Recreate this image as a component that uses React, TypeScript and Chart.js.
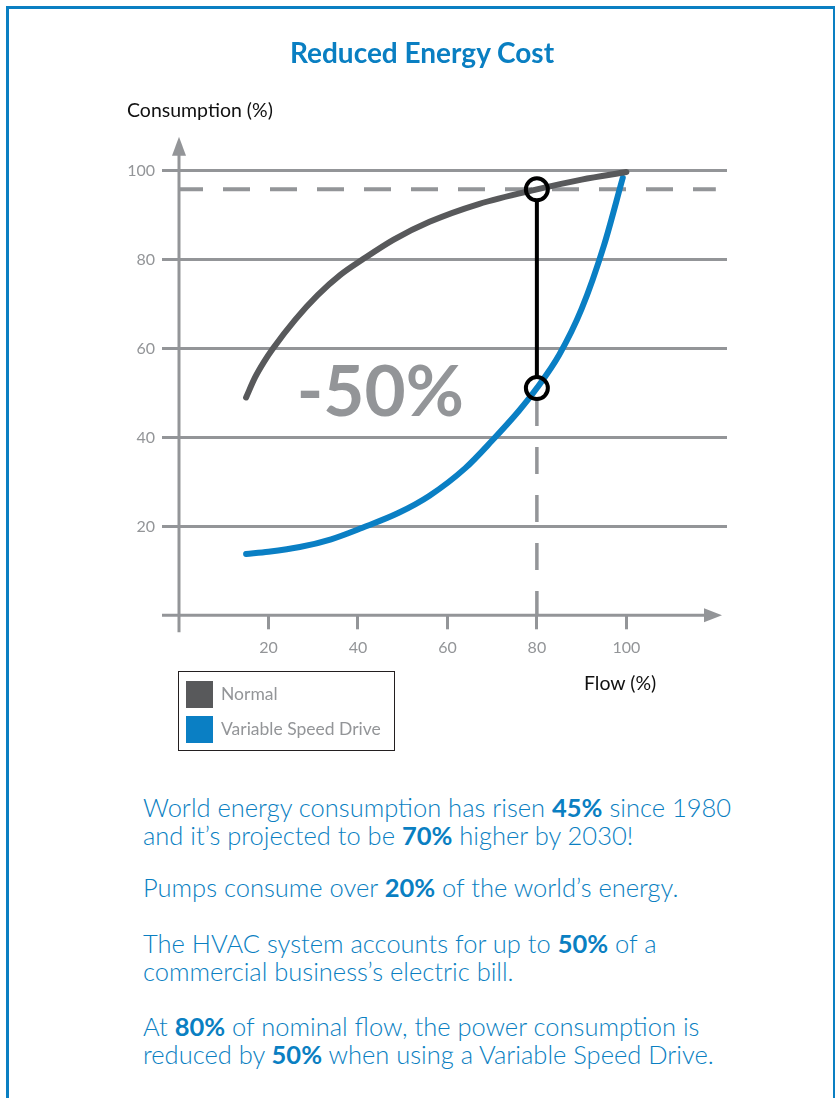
import React, { useEffect, useRef } from 'react';
import { Chart, registerables } from 'chart.js';

Chart.register(...registerables);

// ---- data ----
const flowNormal = [15, 17, 19, 21, 26, 31, 36, 41, 48, 56, 67, 80, 90, 100];
const consNormal = [49, 53.5, 57, 60, 66.5, 72, 76.5, 80, 84.5, 88.5, 92.5, 95.8, 98, 99.7];
const flowVSD = [15, 20, 27, 34, 41, 49, 56, 64, 70, 76, 80, 85, 90, 95, 99.2];
const consVSD = [13.8, 14.3, 15.35, 17.1, 19.7, 23, 26.9, 33.1, 39.3, 46, 51.1, 58.6, 68.9, 83.2, 98.4];
const xTicks = [20, 40, 60, 80, 100];
const yTicks = [20, 40, 60, 80, 100];
const operatingFlow = 80;
const normalAtOp = 95.8;
const vsdAtOp = 51.1;
const savingLabel = '-50%';
const savingAt = { x: 45, y: 50 };
const seriesNames = ['Normal', 'Variable Speed Drive'];
const seriesColors = ['#58595b', '#0a7fc4'];
const refLineEnd = 120;

const gray = '#939598';
const blue = '#0a7fc2';
const FONT = 'Lato, "Open Sans", sans-serif';

const overlayPlugin = {
  id: 'overlay',
  beforeDatasetsDraw(chart: any) {
    const { ctx, chartArea } = chart;
    const xs = chart.scales.x;
    const ys = chart.scales.y;
    const x0 = xs.getPixelForValue(0);
    const y0 = ys.getPixelForValue(0);
    ctx.save();
    ctx.strokeStyle = gray;
    ctx.fillStyle = gray;
    ctx.lineWidth = 3;
    // y axis with arrow
    const yTip = ys.getPixelForValue(100) - 34;
    ctx.beginPath();
    ctx.moveTo(x0, y0 + 17);
    ctx.lineTo(x0, yTip + 10);
    ctx.stroke();
    ctx.beginPath();
    ctx.moveTo(x0, yTip);
    ctx.lineTo(x0 - 7, yTip + 19);
    ctx.lineTo(x0 + 7, yTip + 19);
    ctx.closePath();
    ctx.fill();
    // x axis with arrow
    const xTip = chartArea.right - 5;
    ctx.beginPath();
    ctx.moveTo(x0 - 17, y0);
    ctx.lineTo(xTip - 10, y0);
    ctx.stroke();
    ctx.beginPath();
    ctx.moveTo(xTip, y0);
    ctx.lineTo(xTip - 18, y0 - 7);
    ctx.lineTo(xTip - 18, y0 + 7);
    ctx.closePath();
    ctx.fill();
    // saving label
    ctx.font = `bold 71px ${FONT}`;
    ctx.textAlign = 'center';
    ctx.textBaseline = 'middle';
    ctx.fillText(savingLabel, xs.getPixelForValue(savingAt.x), ys.getPixelForValue(savingAt.y));
    ctx.restore();
  },
  afterDatasetsDraw(chart: any) {
    const { ctx } = chart;
    const xs = chart.scales.x;
    const ys = chart.scales.y;
    const px = xs.getPixelForValue(operatingFlow);
    const top = ys.getPixelForValue(normalAtOp);
    const bot = ys.getPixelForValue(vsdAtOp);
    const r = 11;
    ctx.save();
    ctx.strokeStyle = '#000';
    ctx.lineWidth = 4;
    ctx.beginPath();
    ctx.moveTo(px, top + r);
    ctx.lineTo(px, bot - r);
    ctx.stroke();
    ctx.restore();
  },
};

export default function App() {
  const canvasRef = useRef<HTMLCanvasElement | null>(null);

  useEffect(() => {
    const canvas = canvasRef.current;
    if (!canvas) return;
    const chart = new Chart(canvas, {
      type: 'line',
      data: {
        datasets: [
          {
            label: 'markers',
            data: [
              { x: operatingFlow, y: normalAtOp },
              { x: operatingFlow, y: vsdAtOp },
            ],
            showLine: false,
            pointRadius: 11,
            pointBorderWidth: 4,
            pointBorderColor: '#000',
            pointBackgroundColor: 'rgba(0,0,0,0)',
            order: 0,
            clip: false,
          },
          {
            label: seriesNames[0],
            data: flowNormal.map((x, i) => ({ x, y: consNormal[i] })),
            borderColor: seriesColors[0],
            borderWidth: 6,
            pointRadius: 0,
            cubicInterpolationMode: 'monotone',
            borderCapStyle: 'round',
            order: 1,
            clip: false,
          },
          {
            label: seriesNames[1],
            data: flowVSD.map((x, i) => ({ x, y: consVSD[i] })),
            borderColor: seriesColors[1],
            borderWidth: 6,
            pointRadius: 0,
            cubicInterpolationMode: 'monotone',
            borderCapStyle: 'round',
            order: 2,
            clip: false,
          },
          {
            label: 'ref-h',
            data: [
              { x: 0, y: normalAtOp },
              { x: refLineEnd, y: normalAtOp },
            ],
            borderColor: gray,
            borderWidth: 4,
            borderDash: [27, 20],
            borderDashOffset: 3,
            pointRadius: 0,
            order: 3,
            clip: false,
          },
          {
            label: 'ref-v',
            data: [
              { x: operatingFlow, y: vsdAtOp },
              { x: operatingFlow, y: 0 },
            ],
            borderColor: gray,
            borderWidth: 3.5,
            borderDash: [27, 21],
            borderDashOffset: 37,
            pointRadius: 0,
            order: 3,
            clip: false,
          },
        ],
      } as any,
      options: {
        animation: false,
        responsive: false,
        devicePixelRatio: 1,
        events: [],
        layout: { padding: { left: 119, top: 170.7, right: 108, bottom: 34.7 } },
        plugins: { legend: { display: false }, tooltip: { enabled: false } },
        scales: {
          x: {
            type: 'linear',
            min: 0,
            max: 122.5,
            afterBuildTicks: (s: any) => {
              s.ticks = xTicks.map((v) => ({ value: v }));
            },
            afterFit: (s: any) => {
              s.height = 50;
            },
            grid: { drawOnChartArea: false, drawTicks: true, tickLength: 14, color: gray, lineWidth: 3 },
            border: { display: false },
            ticks: { color: gray, font: { size: 16, family: FONT }, padding: 9, maxRotation: 0 },
          },
          y: {
            type: 'linear',
            min: 0,
            max: 100,
            afterBuildTicks: (s: any) => {
              s.ticks = yTicks.map((v) => ({ value: v }));
            },
            afterFit: (s: any) => {
              s.width = 60;
            },
            grid: { color: gray, lineWidth: 3, tickLength: 17 },
            border: { display: false },
            ticks: { color: gray, font: { size: 16, family: FONT }, padding: 7 },
          },
        },
      } as any,
      plugins: [overlayPlugin],
    });
    return () => chart.destroy();
  }, []);

  const abs = (s: React.CSSProperties): React.CSSProperties => ({ position: 'absolute', margin: 0, ...s });
  const b = (t: string) => <span style={{ fontWeight: 700 }}>{t}</span>;
  const para: React.CSSProperties = {
    fontFamily: FONT,
    fontWeight: 300,
    fontSize: 25.5,
    lineHeight: '27.5px',
    color: blue,
    whiteSpace: 'nowrap',
    left: 143,
  };

  return (
    <div style={abs({ left: 0, top: 0, width: 835, height: 1098, overflow: 'hidden', background: '#fff' })}>
      <div
        style={abs({
          left: 6,
          top: 6,
          width: 824,
          height: 1200,
          border: `3px solid ${blue}`,
          boxSizing: 'content-box',
        })}
      />
      <canvas ref={canvasRef} width={835} height={700} style={abs({ left: 0, top: 0 })} />
      <div
        style={abs({
          left: 0,
          width: 844,
          top: 36,
          textAlign: 'center',
          fontFamily: FONT,
          fontWeight: 700,
          fontSize: 28,
          lineHeight: '32px',
          color: blue,
        })}
      >
        Reduced Energy Cost
      </div>
      <div style={abs({ left: 127, top: 99, fontFamily: FONT, fontSize: 19.5, lineHeight: '22px', color: '#111' })}>
        Consumption (%)
      </div>
      <div style={abs({ left: 584, top: 672, fontFamily: FONT, fontSize: 19.5, lineHeight: '22px', color: '#111' })}>
        Flow (%)
      </div>
      <div
        style={abs({
          left: 178,
          top: 671,
          width: 215,
          height: 78,
          border: '1px solid #231f20',
        })}
      />
      <div style={abs({ left: 186, top: 681, width: 27, height: 27, background: seriesColors[0] })} />
      <div style={abs({ left: 186, top: 716, width: 27, height: 27, background: seriesColors[1] })} />
      <div style={abs({ left: 221, top: 684, fontFamily: FONT, fontSize: 17.5, lineHeight: '20px', color: gray })}>
        {seriesNames[0]}
      </div>
      <div style={abs({ left: 221, top: 719, fontFamily: FONT, fontSize: 17.5, lineHeight: '20px', color: gray })}>
        {seriesNames[1]}
      </div>

      <div style={abs({ ...para, top: 794 })}>
        World energy consumption has risen {b('45%')} since 1980
        <br />
        and it’s projected to be {b('70%')} higher by 2030!
      </div>
      <div style={abs({ ...para, top: 874 })}>
        Pumps consume over {b('20%')} of the world’s energy.
      </div>
      <div style={abs({ ...para, top: 930 })}>
        The HVAC system accounts for up to {b('50%')} of a
        <br />
        commercial business’s electric bill.
      </div>
      <div style={abs({ ...para, top: 1013 })}>
        At {b('80%')} of nominal flow, the power consumption is
        <br />
        reduced by {b('50%')} when using a Variable Speed Drive.
      </div>
    </div>
  );
}
